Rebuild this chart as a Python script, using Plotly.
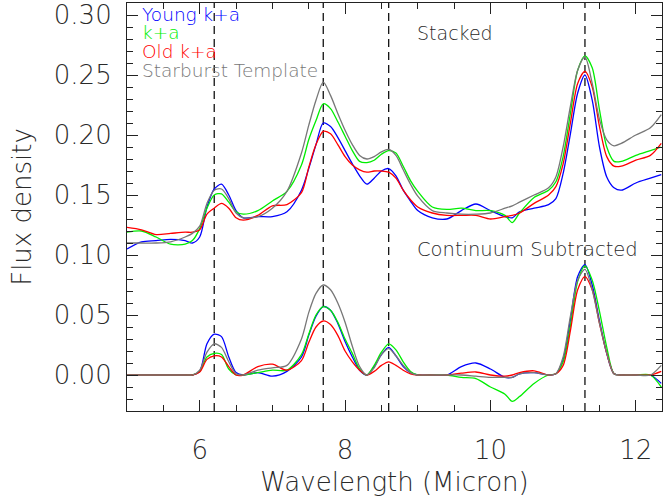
import plotly.graph_objects as go

wavelength = [5.0, 5.2, 5.4, 5.6, 5.8, 5.9, 6.0, 6.1, 6.2, 6.3, 6.4, 6.5, 6.6, 6.8, 7.0, 7.2,
              7.4, 7.5, 7.6, 7.7, 7.8, 7.9, 8.0, 8.1, 8.2, 8.3, 8.4, 8.5, 8.6, 8.7, 8.8, 8.9,
              9.0, 9.2, 9.4, 9.6, 9.8, 10.0, 10.2, 10.3, 10.4, 10.6, 10.8, 10.9, 11.0, 11.1,
              11.2, 11.3, 11.4, 11.5, 11.6, 11.7, 11.8, 12.0, 12.2, 12.35]

# Stacked spectra
stacked_young = [0.105, 0.111, 0.112, 0.113, 0.112, 0.110, 0.115, 0.140, 0.155, 0.159, 0.150, 0.137,
                 0.131, 0.132, 0.132, 0.136, 0.154, 0.172, 0.192, 0.210, 0.207, 0.198, 0.187, 0.176,
                 0.166, 0.159, 0.164, 0.170, 0.172, 0.166, 0.154, 0.145, 0.137, 0.131, 0.130, 0.137,
                 0.1425, 0.137, 0.132, 0.131, 0.136, 0.139, 0.142, 0.147, 0.168, 0.201, 0.235, 0.250,
                 0.229, 0.190, 0.165, 0.156, 0.154, 0.160, 0.164, 0.167]
stacked_ka = [0.119, 0.120, 0.115, 0.109, 0.109, 0.112, 0.122, 0.139, 0.150, 0.151, 0.144, 0.136,
              0.134, 0.137, 0.145, 0.153, 0.175, 0.196, 0.212, 0.226, 0.222, 0.211, 0.199, 0.187,
              0.178, 0.177, 0.179, 0.184, 0.187, 0.185, 0.174, 0.162, 0.153, 0.140, 0.138, 0.139,
              0.137, 0.137, 0.133, 0.127, 0.135, 0.148, 0.154, 0.161, 0.182, 0.218, 0.254, 0.266,
              0.256, 0.221, 0.190, 0.178, 0.178, 0.183, 0.187, 0.190]
stacked_old = [0.123, 0.121, 0.117, 0.118, 0.119, 0.119, 0.121, 0.134, 0.139, 0.143, 0.139, 0.131,
               0.129, 0.133, 0.141, 0.142, 0.152, 0.173, 0.192, 0.203, 0.201, 0.192, 0.182, 0.175,
               0.171, 0.169, 0.170, 0.170, 0.169, 0.164, 0.154, 0.146, 0.140, 0.135, 0.133, 0.133,
               0.133, 0.130, 0.132, 0.133, 0.135, 0.143, 0.150, 0.157, 0.176, 0.210, 0.243, 0.253,
               0.240, 0.207, 0.182, 0.174, 0.174, 0.179, 0.183, 0.193]
stacked_starburst = [0.110, 0.110, 0.110, 0.111, 0.115, 0.118, 0.124, 0.143, 0.154, 0.155, 0.147, 0.135,
                     0.131, 0.132, 0.139, 0.153, 0.185, 0.208, 0.229, 0.244, 0.233, 0.218, 0.204, 0.192,
                     0.183, 0.180, 0.182, 0.186, 0.188, 0.183, 0.171, 0.159, 0.149, 0.137, 0.135, 0.134,
                     0.134, 0.135, 0.139, 0.141, 0.144, 0.150, 0.156, 0.165, 0.190, 0.224, 0.254, 0.265,
                     0.243, 0.213, 0.196, 0.191, 0.193, 0.200, 0.206, 0.217]

# Continuum-subtracted spectra
sub_young = [0, 0, 0, 0, 0, 0, 0.003, 0.026, 0.034, 0.032, 0.015, 0.002,
             0.0, 0.002, -0.001, 0.003, 0.015, 0.033, 0.049, 0.057, 0.054, 0.043, 0.028, 0.015,
             0.004, 0.0, 0.007, 0.017, 0.023, 0.016, 0.007, 0.002, 0, 0, 0, 0.007,
             0.010, 0.005, -0.002, -0.002, 0.001, 0.002, 0, 0.001, 0.013, 0.046, 0.082, 0.092,
             0.075, 0.045, 0.018, 0.001, 0, 0, 0, -0.007]
sub_ka = [0, 0, 0, 0, 0, 0, 0.003, 0.015, 0.018, 0.017, 0.005, 0,
          0, 0.002, 0.004, 0.004, 0.017, 0.034, 0.050, 0.057, 0.054, 0.044, 0.030, 0.018,
          0.005, 0, 0.008, 0.019, 0.026, 0.021, 0.011, 0.003, 0, 0, 0, -0.002,
          -0.003, -0.010, -0.016, -0.022, -0.018, -0.007, 0, 0.001, 0.011, 0.041, 0.078, 0.091,
          0.079, 0.053, 0.023, 0.001, 0, 0, 0, -0.010]
sub_old = [0, 0, 0, 0, 0, 0, 0.0025, 0.013, 0.016, 0.015, 0.007, 0,
           0, 0.007, 0.009, 0.004, 0.012, 0.027, 0.040, 0.045, 0.042, 0.033, 0.020, 0.011,
           0.004, 0, 0.003, 0.008, 0.011, 0.008, 0.004, 0.001, 0, 0, 0, 0.0015,
           0.0025, 0.0, -0.001, 0.0, 0.002, 0.0035, 0, 0.001, 0.008, 0.037, 0.071, 0.082,
           0.071, 0.043, 0.018, 0.001, 0, 0, 0, 0.003]
sub_starburst = [0, 0, 0, 0, 0, 0, 0.004, 0.019, 0.026, 0.023, 0.011, 0.001,
                 0, 0.004, 0.006, 0.008, 0.030, 0.052, 0.068, 0.075, 0.071, 0.060, 0.044, 0.024,
                 0.007, 0, 0.006, 0.017, 0.022, 0.016, 0.008, 0.002, 0, 0, 0, 0,
                 -0.001, -0.002, -0.002, -0.002, 0.001, 0.002, 0, 0.001, 0.015, 0.049, 0.079, 0.088,
                 0.071, 0.043, 0.018, 0.001, 0, 0, 0, 0.008]

series_names = ["Young k+a", "k+a", "Old k+a", "Starburst Template"]
series_colors = ["#0000ff", "#00ee00", "#ff0000", "#777777"]
stacked = [stacked_young, stacked_ka, stacked_old, stacked_starburst]
subtracted = [sub_young, sub_ka, sub_old, sub_starburst]

feature_lines = [6.2, 7.7, 8.6, 11.3]

FONT = "DejaVu Sans"
W = 200
TXT = "#2a2a2a"

fig = go.Figure()
for name, color, ys, yc in zip(series_names, series_colors, stacked, subtracted):
    fig.add_trace(go.Scatter(x=wavelength, y=ys, mode="lines", name=name,
                             line=dict(color=color, width=1.3, shape="spline", smoothing=0.8),
                             showlegend=False))
    fig.add_trace(go.Scatter(x=wavelength, y=yc, mode="lines", name=name,
                             line=dict(color=color, width=1.3, shape="spline", smoothing=0.8),
                             showlegend=False))

for xv in feature_lines:
    fig.add_vline(x=xv, line=dict(color="#111111", width=1.3, dash="8px,5px"), layer="below")

# colored legend text
for i, (name, color) in enumerate(zip(series_names, series_colors)):
    fig.add_annotation(x=0.024, y=0.972 - i * 0.0455, xref="paper", yref="paper",
                       text=name, showarrow=False, xanchor="left", yanchor="middle",
                       font=dict(family=FONT, size=18.5, color=color, weight=W))

fig.add_annotation(x=0.538, y=0.926, xref="paper", yref="paper", text="Stacked",
                   showarrow=False, xanchor="left", yanchor="middle",
                   font=dict(family=FONT, size=19, color=TXT, weight=W))
fig.add_annotation(x=0.538, y=0.397, xref="paper", yref="paper", text="Continuum Subtracted",
                   showarrow=False, xanchor="left", yanchor="middle",
                   font=dict(family=FONT, size=19.5, color=TXT, weight=W))

axis_common = dict(showgrid=False, zeroline=False, showline=True, linecolor="#222222",
                   linewidth=1.2, mirror="ticks", ticks="inside", tickcolor="#222222",
                   tickwidth=1.2, tickfont=dict(family=FONT, size=26, color=TXT, weight=W))

fig.update_xaxes(range=[5.0, 12.36], tick0=0, dtick=2, ticklen=11,
                 minor=dict(dtick=0.5, ticks="inside", ticklen=6, tickcolor="#222222", tickwidth=1.2),
                 title=dict(text="Wavelength (Micron)",
                            font=dict(family=FONT, size=26, color=TXT, weight=W), standoff=8),
                 ticklabelstandoff=16, **axis_common)
fig.update_yaxes(range=[-0.03, 0.31], tick0=0, dtick=0.05, tickformat=".2f", ticklen=11,
                 minor=dict(dtick=0.01, ticks="inside", ticklen=6, tickcolor="#222222", tickwidth=1.2),
                 title=dict(text="Flux density",
                            font=dict(family=FONT, size=26, color=TXT, weight=W), standoff=14),
                 ticklabelstandoff=9, **axis_common)

fig.update_layout(width=663, height=498, margin=dict(l=127, r=1, t=3, b=87, autoexpand=False),
                  plot_bgcolor="white", paper_bgcolor="white", showlegend=False)

fig.write_html("out.html", config={"displayModeBar": False},
               post_script="document.body.style.margin='0px';")
